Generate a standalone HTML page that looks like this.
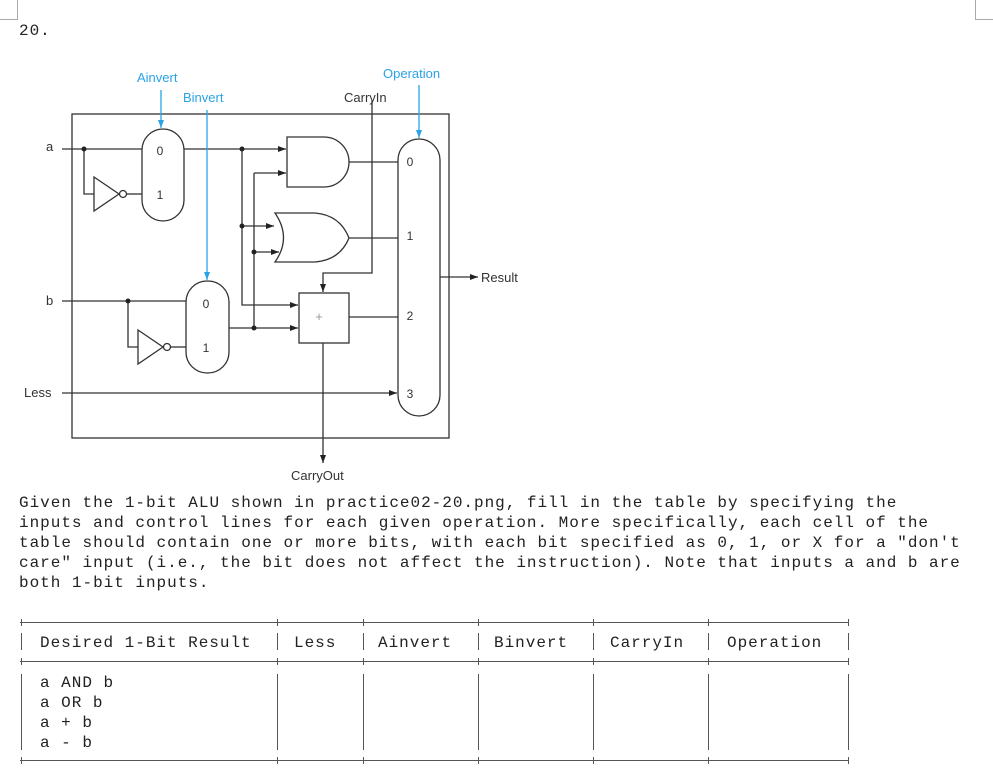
<!DOCTYPE html>
<html><head><meta charset="utf-8"><style>
html,body{margin:0;padding:0;background:#fff;width:993px;height:778px;overflow:hidden}
svg{position:absolute;left:0;top:0}
.m{font-family:"Liberation Mono",monospace;font-size:16px;letter-spacing:0.98px;fill:#222}
.s{font-family:"Liberation Sans",sans-serif;font-size:13px;fill:#333}
.b{font-family:"Liberation Sans",sans-serif;font-size:13px;fill:#29a3e8}
</style></head><body>
<svg width="993" height="778" viewBox="0 0 993 778">
<defs>
<marker id="ar" markerWidth="8" markerHeight="6" refX="8" refY="3" orient="auto" markerUnits="userSpaceOnUse"><path d="M0,0 L8,3 L0,6 z" fill="#222"/></marker>
<marker id="ab2" markerWidth="8" markerHeight="6" refX="8" refY="3" orient="auto" markerUnits="userSpaceOnUse"><path d="M0,0 L8,3 L0,6 z" fill="#29a3e8"/></marker>
</defs>
<g stroke="#aaa" fill="none" stroke-width="1">
<path d="M0,19.5 H17.5 V0"/><path d="M993,19.5 H975.5 V0"/>
</g>
<text class="m" x="19" y="35">20.</text>

<g stroke="#333" stroke-width="1.3" fill="none">
<rect x="72" y="114" width="377" height="324"/>
<path d="M62,149 H142"/><path d="M84,149 V194 H94"/>
<path d="M94,177 L119,194 L94,211 Z"/><circle cx="123" cy="194" r="3.5"/><path d="M127,194 H142"/>
<rect x="142" y="129" width="42" height="92" rx="21"/>
<path d="M184,149 H286" marker-end="url(#ar)"/>
<path d="M242,149 V305 H298" marker-end="url(#ar)"/>
<path d="M242,226 H274" marker-end="url(#ar)"/>
<path d="M254,173 H286" marker-end="url(#ar)"/>
<path d="M254,173 V328"/>
<path d="M254,252 H279" marker-end="url(#ar)"/>
<path d="M287,137 H324 A25,25 0 0 1 324,187 H287 Z"/>
<path d="M275,213 H315 Q340,215 349,238 Q340,260 315,262 H275 Q292,238 275,213 Z"/>
<path d="M62,301 H186"/><path d="M128,301 V347 H138"/>
<path d="M138,330 L163,347 L138,364 Z"/><circle cx="167" cy="347" r="3.5"/><path d="M171,347 H186"/>
<rect x="186" y="281" width="43" height="92" rx="21"/>
<path d="M229,328 H298" marker-end="url(#ar)"/>
<rect x="299" y="293" width="50" height="50"/>
<path d="M372,101 V273 H323 V292" marker-end="url(#ar)"/>
<path d="M323,343 V463" marker-end="url(#ar)"/>
<path d="M349,162 H398"/><path d="M349,238 H398"/><path d="M349,317 H398"/>
<path d="M62,393 H397" marker-end="url(#ar)"/>
<rect x="398" y="139" width="42" height="277" rx="21"/>
<path d="M440,277 H478" marker-end="url(#ar)"/>
</g>
<g fill="#222"><circle cx="84" cy="149" r="2.5"/><circle cx="242" cy="149" r="2.5"/><circle cx="242" cy="226" r="2.5"/><circle cx="254" cy="252" r="2.5"/><circle cx="128" cy="301" r="2.5"/><circle cx="254" cy="328" r="2.5"/></g>
<g stroke="#29a3e8" stroke-width="1.3" fill="none">
<path d="M161,90 V128" marker-end="url(#ab2)"/>
<path d="M207,110 V280" marker-end="url(#ab2)"/>
<path d="M419,85 V138" marker-end="url(#ab2)"/>
</g>
<text class="s" x="319" y="321" style="fill:#999" text-anchor="middle">+</text>
<g class="s" text-anchor="middle" style="font-size:12px">
<text x="160" y="155">0</text><text x="160" y="199">1</text>
<text x="206" y="308">0</text><text x="206" y="352">1</text>
<text x="410" y="166">0</text><text x="410" y="240">1</text><text x="410" y="320">2</text><text x="410" y="398">3</text>
</g>
<text class="s" x="46" y="151">a</text>
<text class="s" x="46" y="305">b</text>
<text class="s" x="24" y="397">Less</text>
<text class="s" x="344" y="102">CarryIn</text>
<text class="s" x="291" y="480">CarryOut</text>
<text class="s" x="481" y="282">Result</text>
<text class="b" x="137" y="82">Ainvert</text>
<text class="b" x="183" y="102">Binvert</text>
<text class="b" x="383" y="78">Operation</text>

<g class="m">
<text x="19" y="507">Given the 1-bit ALU shown in practice02-20.png, fill in the table by specifying the</text>
<text x="19" y="527">inputs and control lines for each given operation. More specifically, each cell of the</text>
<text x="19" y="547">table should contain one or more bits, with each bit specified as 0, 1, or X for a "don't</text>
<text x="19" y="567">care" input (i.e., the bit does not affect the instruction). Note that inputs a and b are</text>
<text x="19" y="587">both 1-bit inputs.</text>
</g>
<g stroke="#555" stroke-width="1">
<path d="M20,622.5 H849 M20,661.5 H849 M20,760.5 H849"/>
<path d="M21.5,633 V650 M21.5,674 V750 M277.5,633 V650 M277.5,674 V750 M363.5,633 V650 M363.5,674 V750 M478.5,633 V650 M478.5,674 V750 M593.5,633 V650 M593.5,674 V750 M708.5,633 V650 M708.5,674 V750 M848.5,633 V650 M848.5,674 V750"/>
<path d="M21.5,619 V626 M277.5,619 V626 M363.5,619 V626 M478.5,619 V626 M593.5,619 V626 M708.5,619 V626 M848.5,619 V626"/>
<path d="M21.5,658 V665 M277.5,658 V665 M363.5,658 V665 M478.5,658 V665 M593.5,658 V665 M708.5,658 V665 M848.5,658 V665"/>
<path d="M21.5,757 V764 M277.5,757 V764 M363.5,757 V764 M478.5,757 V764 M593.5,757 V764 M708.5,757 V764 M848.5,757 V764"/>
</g>
<g class="m">
<text x="40" y="647">Desired 1-Bit Result</text>
<text x="294" y="647">Less</text>
<text x="378" y="647">Ainvert</text>
<text x="494" y="647">Binvert</text>
<text x="610" y="647">CarryIn</text>
<text x="727" y="647">Operation</text>
<text x="40" y="687">a AND b</text>
<text x="40" y="707">a OR b</text>
<text x="40" y="727">a + b</text>
<text x="40" y="747">a - b</text>
</g>
</svg>
</body></html>
